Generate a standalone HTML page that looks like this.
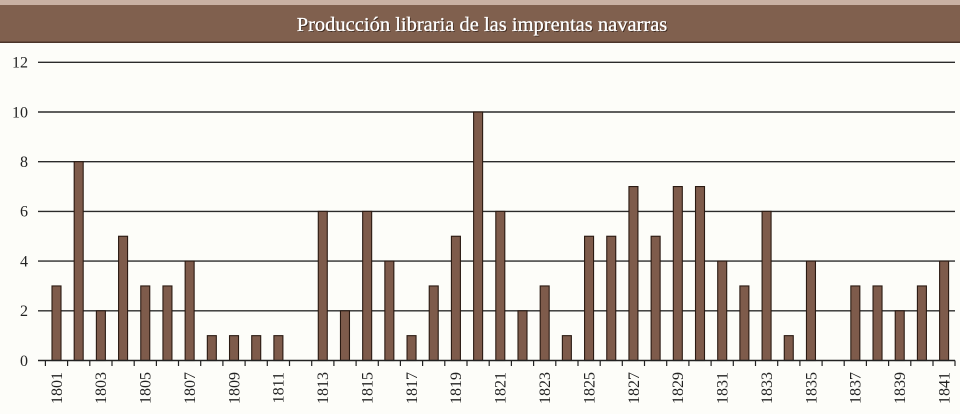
<!DOCTYPE html>
<html>
<head>
<meta charset="utf-8">
<style>
html,body{margin:0;padding:0;background:#fdfdf9;}
svg{display:block;}
</style>
</head>
<body>
<svg width="960" height="414" viewBox="0 0 960 414" xmlns="http://www.w3.org/2000/svg">
<rect x="0" y="0" width="960" height="414" fill="#fdfdf9"/>
<rect x="0" y="0" width="960" height="6" fill="#c9b1a3"/>
<rect x="0" y="5" width="960" height="38" fill="#80604e"/>
<rect x="0" y="41.5" width="960" height="1.5" fill="#4a3429"/>
<text x="483" y="32" text-anchor="middle" font-family="Liberation Serif, serif" font-size="20.5" fill="#2a1a12" opacity="0.8">Producción libraria de las imprentas navarras</text>
<text x="482" y="31" text-anchor="middle" font-family="Liberation Serif, serif" font-size="20.5" fill="#ffffff" stroke="#ffffff" stroke-width="0.3">Producción libraria de las imprentas navarras</text>
<g stroke="#2b2b2b" stroke-width="1.4">
<line x1="38" y1="62.3" x2="955" y2="62.3"/>
<line x1="38" y1="112" x2="955" y2="112"/>
<line x1="38" y1="161.7" x2="955" y2="161.7"/>
<line x1="38" y1="211.4" x2="955" y2="211.4"/>
<line x1="38" y1="261.1" x2="955" y2="261.1"/>
<line x1="38" y1="310.8" x2="955" y2="310.8"/>
</g>
<g font-family="Liberation Serif, serif" font-size="16" fill="#222" text-anchor="end">
<text x="28" y="67.5">12</text>
<text x="28" y="117.5">10</text>
<text x="28" y="167">8</text>
<text x="28" y="216.5">6</text>
<text x="28" y="266.5">4</text>
<text x="28" y="316">2</text>
<text x="28" y="366">0</text>
</g>
<g fill="#7e5b4b" stroke="#2a1a12" stroke-width="1.1">
<rect x="52" y="285.95" width="9" height="74.55"/>
<rect x="74.19" y="161.7" width="9" height="198.8"/>
<rect x="96.38" y="310.8" width="9" height="49.7"/>
<rect x="118.57" y="236.25" width="9" height="124.25"/>
<rect x="140.76" y="285.95" width="9" height="74.55"/>
<rect x="162.95" y="285.95" width="9" height="74.55"/>
<rect x="185.14" y="261.1" width="9" height="99.4"/>
<rect x="207.33" y="335.65" width="9" height="24.85"/>
<rect x="229.52" y="335.65" width="9" height="24.85"/>
<rect x="251.71" y="335.65" width="9" height="24.85"/>
<rect x="273.9" y="335.65" width="9" height="24.85"/>
<rect x="318.28" y="211.4" width="9" height="149.1"/>
<rect x="340.47" y="310.8" width="9" height="49.7"/>
<rect x="362.66" y="211.4" width="9" height="149.1"/>
<rect x="384.85" y="261.1" width="9" height="99.4"/>
<rect x="407.04" y="335.65" width="9" height="24.85"/>
<rect x="429.23" y="285.95" width="9" height="74.55"/>
<rect x="451.42" y="236.25" width="9" height="124.25"/>
<rect x="473.61" y="112" width="9" height="248.5"/>
<rect x="495.8" y="211.4" width="9" height="149.1"/>
<rect x="517.99" y="310.8" width="9" height="49.7"/>
<rect x="540.18" y="285.95" width="9" height="74.55"/>
<rect x="562.37" y="335.65" width="9" height="24.85"/>
<rect x="584.56" y="236.25" width="9" height="124.25"/>
<rect x="606.75" y="236.25" width="9" height="124.25"/>
<rect x="628.94" y="186.55" width="9" height="173.95"/>
<rect x="651.13" y="236.25" width="9" height="124.25"/>
<rect x="673.32" y="186.55" width="9" height="173.95"/>
<rect x="695.51" y="186.55" width="9" height="173.95"/>
<rect x="717.7" y="261.1" width="9" height="99.4"/>
<rect x="739.89" y="285.95" width="9" height="74.55"/>
<rect x="762.08" y="211.4" width="9" height="149.1"/>
<rect x="784.27" y="335.65" width="9" height="24.85"/>
<rect x="806.46" y="261.1" width="9" height="99.4"/>
<rect x="850.84" y="285.95" width="9" height="74.55"/>
<rect x="873.03" y="285.95" width="9" height="74.55"/>
<rect x="895.22" y="310.8" width="9" height="49.7"/>
<rect x="917.41" y="285.95" width="9" height="74.55"/>
<rect x="939.6" y="261.1" width="9" height="99.4"/>
</g>
<line x1="38" y1="360.5" x2="955" y2="360.5" stroke="#222" stroke-width="1.5"/>
<g stroke="#222" stroke-width="1.2">
<line x1="45.4" y1="360.5" x2="45.4" y2="366"/>
<line x1="67.6" y1="360.5" x2="67.6" y2="366"/>
<line x1="89.8" y1="360.5" x2="89.8" y2="366"/>
<line x1="112" y1="360.5" x2="112" y2="366"/>
<line x1="134.2" y1="360.5" x2="134.2" y2="366"/>
<line x1="156.4" y1="360.5" x2="156.4" y2="366"/>
<line x1="178.5" y1="360.5" x2="178.5" y2="366"/>
<line x1="200.7" y1="360.5" x2="200.7" y2="366"/>
<line x1="222.9" y1="360.5" x2="222.9" y2="366"/>
<line x1="245.1" y1="360.5" x2="245.1" y2="366"/>
<line x1="267.3" y1="360.5" x2="267.3" y2="366"/>
<line x1="289.5" y1="360.5" x2="289.5" y2="366"/>
<line x1="311.7" y1="360.5" x2="311.7" y2="366"/>
<line x1="333.9" y1="360.5" x2="333.9" y2="366"/>
<line x1="356.1" y1="360.5" x2="356.1" y2="366"/>
<line x1="378.3" y1="360.5" x2="378.3" y2="366"/>
<line x1="400.4" y1="360.5" x2="400.4" y2="366"/>
<line x1="422.6" y1="360.5" x2="422.6" y2="366"/>
<line x1="444.8" y1="360.5" x2="444.8" y2="366"/>
<line x1="467" y1="360.5" x2="467" y2="366"/>
<line x1="489.2" y1="360.5" x2="489.2" y2="366"/>
<line x1="511.4" y1="360.5" x2="511.4" y2="366"/>
<line x1="533.6" y1="360.5" x2="533.6" y2="366"/>
<line x1="555.8" y1="360.5" x2="555.8" y2="366"/>
<line x1="578" y1="360.5" x2="578" y2="366"/>
<line x1="600.2" y1="360.5" x2="600.2" y2="366"/>
<line x1="622.3" y1="360.5" x2="622.3" y2="366"/>
<line x1="644.5" y1="360.5" x2="644.5" y2="366"/>
<line x1="666.7" y1="360.5" x2="666.7" y2="366"/>
<line x1="688.9" y1="360.5" x2="688.9" y2="366"/>
<line x1="711.1" y1="360.5" x2="711.1" y2="366"/>
<line x1="733.3" y1="360.5" x2="733.3" y2="366"/>
<line x1="755.5" y1="360.5" x2="755.5" y2="366"/>
<line x1="777.7" y1="360.5" x2="777.7" y2="366"/>
<line x1="799.9" y1="360.5" x2="799.9" y2="366"/>
<line x1="822.1" y1="360.5" x2="822.1" y2="366"/>
<line x1="844.2" y1="360.5" x2="844.2" y2="366"/>
<line x1="866.4" y1="360.5" x2="866.4" y2="366"/>
<line x1="888.6" y1="360.5" x2="888.6" y2="366"/>
<line x1="910.8" y1="360.5" x2="910.8" y2="366"/>
<line x1="933" y1="360.5" x2="933" y2="366"/>
<line x1="955" y1="360.5" x2="955" y2="366"/>
</g>
<g font-family="Liberation Serif, serif" font-size="16" fill="#222" text-anchor="end">
<text transform="translate(61.8,372) rotate(-90)">1801</text>
<text transform="translate(106.2,372) rotate(-90)">1803</text>
<text transform="translate(150.6,372) rotate(-90)">1805</text>
<text transform="translate(195,372) rotate(-90)">1807</text>
<text transform="translate(239.3,372) rotate(-90)">1809</text>
<text transform="translate(283.7,372) rotate(-90)">1811</text>
<text transform="translate(328.1,372) rotate(-90)">1813</text>
<text transform="translate(372.5,372) rotate(-90)">1815</text>
<text transform="translate(416.9,372) rotate(-90)">1817</text>
<text transform="translate(461.2,372) rotate(-90)">1819</text>
<text transform="translate(505.6,372) rotate(-90)">1821</text>
<text transform="translate(550,372) rotate(-90)">1823</text>
<text transform="translate(594.4,372) rotate(-90)">1825</text>
<text transform="translate(638.8,372) rotate(-90)">1827</text>
<text transform="translate(683.1,372) rotate(-90)">1829</text>
<text transform="translate(727.5,372) rotate(-90)">1831</text>
<text transform="translate(771.9,372) rotate(-90)">1833</text>
<text transform="translate(816.3,372) rotate(-90)">1835</text>
<text transform="translate(860.7,372) rotate(-90)">1837</text>
<text transform="translate(905,372) rotate(-90)">1839</text>
<text transform="translate(949.4,372) rotate(-90)">1841</text>
</g>
</svg>
</body>
</html>
